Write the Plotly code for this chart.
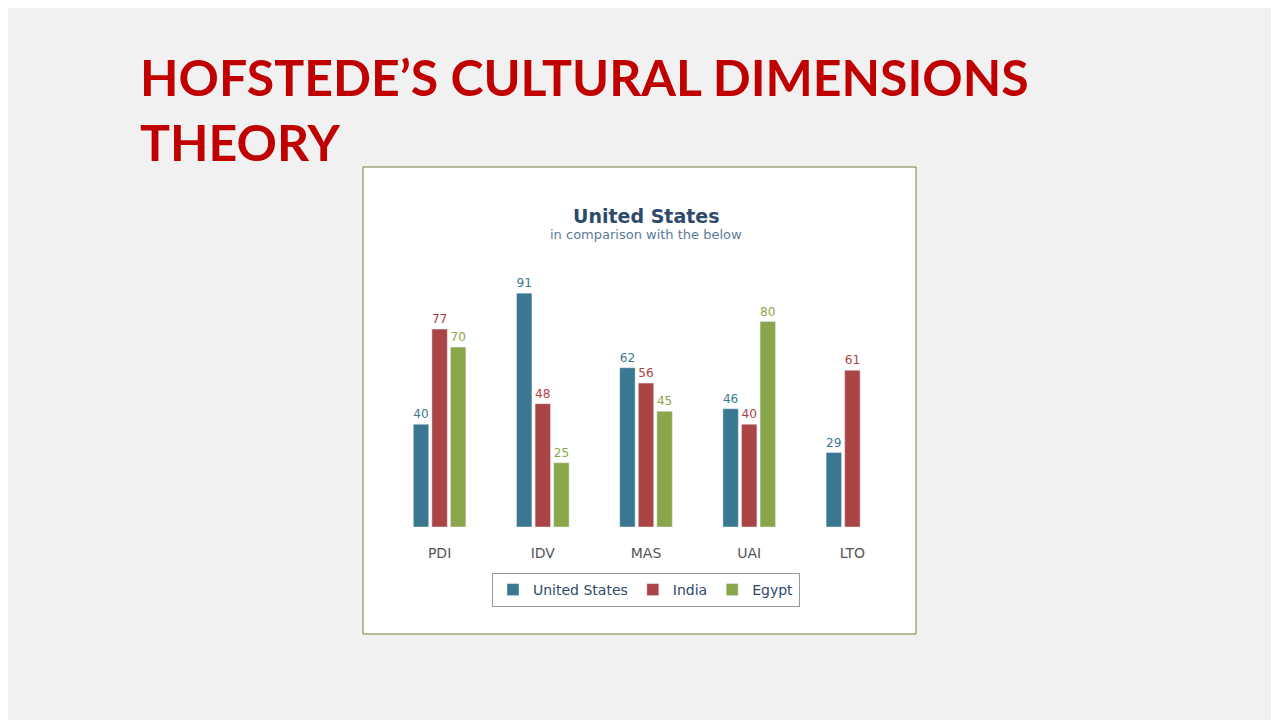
import plotly.graph_objects as go

dims = ["PDI", "IDV", "MAS", "UAI", "LTO"]
usa = [40, 91, 62, 46, 29]
india = [77, 48, 56, 40, 61]
egypt = [70, 25, 45, 80, None]

colors = {"United States": "#3a7891", "India": "#ab4444", "Egypt": "#8aa64a"}
W, H = 1279, 720
OX, OY = 8, 8  # page offset of the plot div


def px(x):
    return (x - OX) / W


def py(y):
    return 1 - (y - OY) / H


fig = go.Figure()
for name, vals in [("United States", usa), ("India", india), ("Egypt", egypt)]:
    fig.add_trace(go.Bar(
        x=dims, y=vals, name=name, marker_color=colors[name],
        text=[str(v) if v is not None else "" for v in vals],
        textposition="outside", cliponaxis=False,
        textfont=dict(color=colors[name], size=17, family="DejaVu Sans"),
    ))

# white chart box
fig.add_shape(type="rect", xref="paper", yref="paper",
              x0=px(363), x1=px(916), y0=py(634), y1=py(167),
              fillcolor="white", line=dict(color="#7d7a3c", width=1), layer="below")

fig.add_annotation(text="<b>HOFSTEDE’S CULTURAL DIMENSIONS<br>THEORY</b>",
                   xref="paper", yref="paper", x=px(138), y=py(45),
                   xanchor="left", yanchor="top", align="left", showarrow=False,
                   font=dict(color="#c00000", size=50, family="Lato"))
fig.add_annotation(text="<b>United States</b>", xref="paper", yref="paper",
                   x=px(646), y=py(203), showarrow=False,
                   font=dict(color="#2e4a6b", size=19, family="DejaVu Sans"))
fig.add_annotation(text="in comparison with the below", xref="paper", yref="paper",
                   x=px(646), y=py(225), showarrow=False,
                   font=dict(color="#5a7a99", size=13, family="DejaVu Sans"))

fig.update_layout(
    width=W, height=H, margin=dict(l=0, r=0, t=0, b=0),
    paper_bgcolor="#f1f1f1", plot_bgcolor="rgba(0,0,0,0)",
    barmode="group", bargap=0.46, bargroupgap=0.17,
    showlegend=True,
    legend=dict(orientation="h", x=px(646), y=py(590), xanchor="center", yanchor="middle",
                bordercolor="#999999", borderwidth=1, bgcolor="white",
                font=dict(color="#2e4a6b", size=14, family="DejaVu Sans")),
    xaxis=dict(domain=[px(388), px(904)], showline=False, ticks="", showgrid=False,
               ticklabelstandoff=16,
               tickfont=dict(color="#555555", size=14, family="DejaVu Sans")),
    yaxis=dict(domain=[py(527), py(270)], range=[0, 100], visible=False),
)

fig.write_html("out.html")
